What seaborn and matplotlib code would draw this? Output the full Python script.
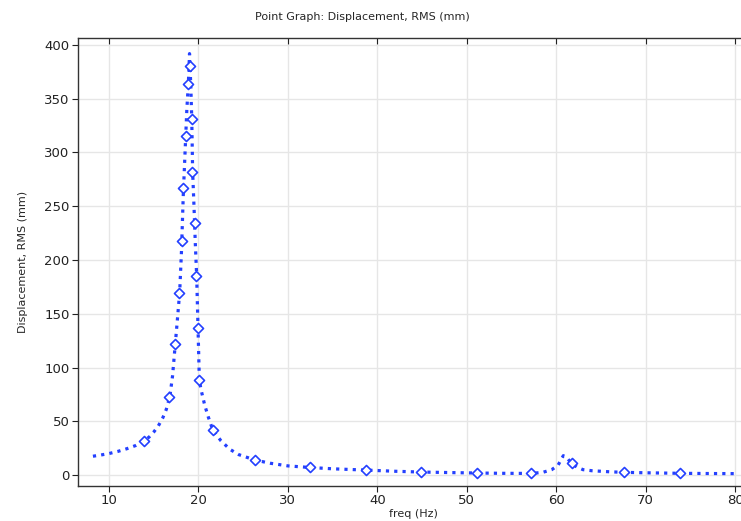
import numpy as np
import pandas as pd
import matplotlib
matplotlib.use("Agg")
import matplotlib.pyplot as plt
import seaborn as sns

# curve (freq in Hz, displacement RMS in mm)
line_freq = [8.2, 9, 10, 11, 12, 13, 14, 14.5, 15, 15.5, 16, 16.4, 16.8, 17.1, 17.4, 17.7,
             17.9, 18.1, 18.3, 18.5, 18.7, 18.87, 19.0, 19.06, 19.15, 19.25, 19.35, 19.5,
             19.65, 19.8, 19.95, 20.1, 20.3, 20.7, 21.1, 21.6, 22.5, 23.5, 24.5, 26.3, 28,
             30, 32.5, 35, 38.7, 42, 44.8, 48, 51, 54, 57.2, 58.5, 59.5, 60.2, 60.8, 61.2,
             61.7, 62.3, 63, 64, 66, 67.6, 70, 73.9, 77, 80.3]
line_val = [17.5, 18.5, 20, 22, 24.5, 27.5, 32, 35.5, 40, 45.5, 53, 61, 73, 92, 121, 150,
            170, 208, 260, 300, 340, 364, 392, 380, 360, 331, 282, 250,
            215, 185, 137, 88, 79, 65, 54, 42, 32, 24, 19, 14, 11,
            8.5, 7, 5.8, 4.6, 3.5, 2.8, 2.3, 1.9, 1.6, 1.5, 2.5, 5, 9, 18, 16,
            11, 7.5, 5, 4, 3, 2.5, 2.1, 1.6, 1.4, 1.3]

# solution points shown as diamonds
mark_freq = [13.9, 16.7, 17.4, 17.86, 18.13, 18.31, 18.61, 18.87, 19.06, 19.25, 19.32,
             19.6, 19.76, 19.91, 20.1, 21.6, 26.3, 32.5, 38.7, 44.9, 51.2, 57.2, 61.75,
             67.6, 73.9]
mark_val = [31.6, 73, 122, 169, 218, 267, 315, 364, 380, 331, 282,
            234, 185, 137, 88, 42, 14, 7.4, 4.6, 2.8, 1.9, 1.5, 10.9,
            2.5, 1.6]

line_df = pd.DataFrame({"freq": line_freq, "disp": line_val})
mark_df = pd.DataFrame({"freq": mark_freq, "disp": mark_val})

sns.set_style("white")
plt.rcParams["font.family"] = ["DejaVu Sans"]

blue = "#2440ff"
fig = plt.figure(figsize=(7.41, 5.21), dpi=100)
ax = fig.add_axes([78 / 741, 35 / 521, (748 - 78) / 741, 448 / 521])

sns.lineplot(data=line_df, x="freq", y="disp", ax=ax, color=blue, lw=2.3,
             linestyle=(0, (1, 1.6)), sort=False, zorder=3)
sns.scatterplot(data=mark_df, x="freq", y="disp", ax=ax, marker="D", s=26,
                facecolor="white", edgecolor=blue, linewidth=1.2, zorder=4)

ax.set_xlim(6.53, 81.45)
ax.set_ylim(-10.2, 406.5)
ax.set_xticks(range(10, 81, 10))
ax.set_yticks(range(0, 401, 50))
ax.grid(True, color="#e6e6e6", lw=1)
ax.set_axisbelow(True)
for s in ax.spines.values():
    s.set_color("#333333")
    s.set_linewidth(1)
ax.tick_params(axis="both", which="major", direction="out", length=4, pad=2,
               labelsize=9.5, colors="#222222", bottom=True, left=True)
ax.tick_params(axis="x", top=True, labeltop=False)
for t in ax.xaxis.get_major_ticks():
    t.tick2line.set_marker(3)  # inward tick on top spine
    t.tick2line.set_markersize(4)

ax.set_xlabel("freq (Hz)", fontsize=8, labelpad=1)
ax.set_ylabel("Displacement, RMS (mm)", fontsize=8, labelpad=12)
fig.text(362 / 741, 1 - 17 / 521, "Point Graph: Displacement, RMS (mm)",
         ha="center", va="center", fontsize=8)

fig.savefig("out.png", dpi=100)
